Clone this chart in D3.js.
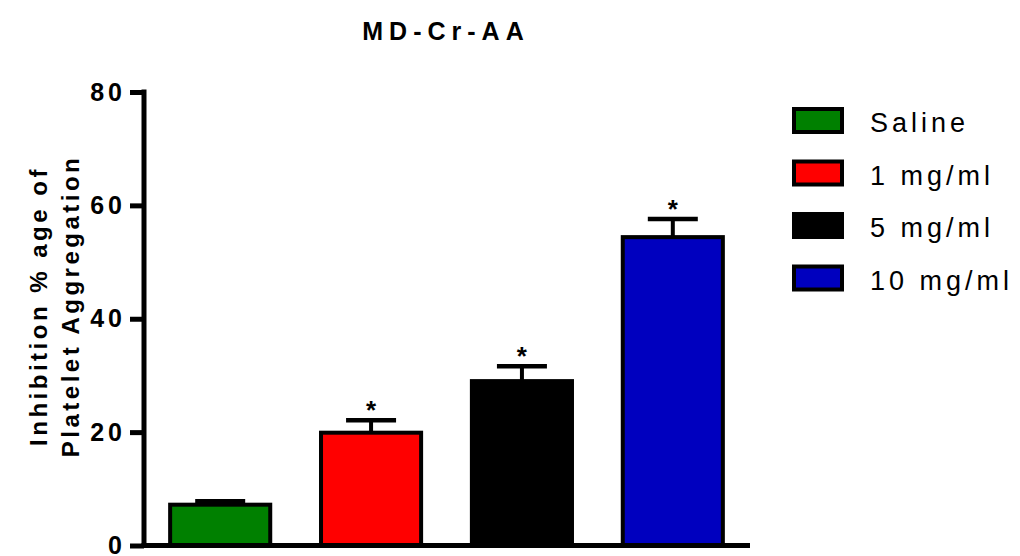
<!DOCTYPE html>
<html>
<head>
<meta charset="utf-8">
<script src="https://cdn.jsdelivr.net/npm/d3@7"></script>
<style>
  body { margin: 0; background: #fff; }
  svg text { font-family: "Liberation Sans", Arial, sans-serif; }
</style>
</head>
<body>
<div id="chart"></div>
<script>
// data
var groups = ["Saline", "1 mg/ml", "5 mg/ml", "10 mg/ml"];
var means = [7.2, 19.9, 29.0, 54.4];
var errors = [0.6, 2.2, 2.6, 3.2];
var starred = [false, true, true, true];
var colors = ["#008000", "#ff0000", "#000000", "#0000bf"];
var yTicks = [0, 20, 40, 60, 80];

var W = 1020, H = 556;

var svg = d3.select("#chart")
    .append("svg")
    .attr("width", W)
    .attr("height", H);

// scales
var x = d3.scaleBand()
    .domain(groups)
    .range([144, 749])
    .paddingInner(0.31)
    .paddingOuter(0.16);

var y = d3.scaleLinear()
    .domain([0, 80])
    .range([545.5, 92]);

// title
svg.append("text")
    .attr("x", 446)
    .attr("y", 40)
    .attr("text-anchor", "middle")
    .style("font-size", "25px")
    .style("font-weight", "bold")
    .style("letter-spacing", "6px")
    .text("MD-Cr-AA");

// bars
var g = svg.selectAll("g.bar")
    .data(groups)
    .enter()
    .append("g")
    .attr("class", "bar");

g.append("line")
    .attr("x1", d => x(d) + x.bandwidth() / 2)
    .attr("x2", d => x(d) + x.bandwidth() / 2)
    .attr("y1", (d, i) => y(means[i]))
    .attr("y2", (d, i) => y(means[i] + errors[i]))
    .attr("stroke", "#000")
    .attr("stroke-width", 4);

g.append("line")
    .attr("x1", d => x(d) + x.bandwidth() / 2 - 25)
    .attr("x2", d => x(d) + x.bandwidth() / 2 + 25)
    .attr("y1", (d, i) => y(means[i] + errors[i]))
    .attr("y2", (d, i) => y(means[i] + errors[i]))
    .attr("stroke", "#000")
    .attr("stroke-width", 4.5);

g.append("rect")
    .attr("x", d => x(d) + 2)
    .attr("width", x.bandwidth() - 4)
    .attr("y", (d, i) => y(means[i]))
    .attr("height", (d, i) => y(0) - y(means[i]))
    .attr("fill", (d, i) => colors[i])
    .attr("stroke", "#000")
    .attr("stroke-width", 4);

// significance stars
g.filter((d, i) => starred[i])
    .append("text")
    .attr("x", d => x(d) + x.bandwidth() / 2)
    .attr("y", d => y(means[groups.indexOf(d)] + errors[groups.indexOf(d)]) - 1)
    .attr("text-anchor", "middle")
    .style("font-size", "26px")
    .style("font-weight", "bold")
    .text("*");

// y axis
var yAxis = svg.append("g")
    .attr("transform", "translate(144,0)")
    .call(d3.axisLeft(y).tickValues(yTicks).tickSize(14).tickSizeOuter(0).tickPadding(8));
yAxis.select(".domain").attr("stroke-width", 5).attr("d", "M0," + (y(80) - 2.5) + "V" + (y(0) + 2.5));
yAxis.selectAll(".tick line").attr("stroke-width", 5);
yAxis.selectAll(".tick text")
    .style("font-family", "'Liberation Sans', Arial, sans-serif")
    .style("font-size", "25px")
    .style("font-weight", "bold")
    .style("letter-spacing", "4px")
    .attr("dx", "4px");

// x axis (no ticks)
var xAxis = svg.append("g")
    .attr("transform", "translate(0," + y(0) + ")")
    .call(d3.axisBottom(x).tickValues([]).tickSizeOuter(0));
xAxis.select(".domain").attr("stroke-width", 5).attr("d", "M141.5,0H750");

// y label
var yl = svg.append("text")
    .attr("transform", "translate(47,306) rotate(-90)")
    .attr("text-anchor", "middle")
    .style("font-size", "24px")
    .style("font-weight", "bold")
    .style("letter-spacing", "3.5px");
yl.append("tspan").attr("x", 0).attr("y", 0).text("Inhibition % age of");
yl.append("tspan").attr("x", 0).attr("y", 32).text("Platelet Aggregation");

// legend
var leg = svg.selectAll("g.legend")
    .data(groups)
    .enter()
    .append("g")
    .attr("class", "legend")
    .attr("transform", (d, i) => "translate(794," + (109 + i * 52.5) + ")");

leg.append("rect")
    .attr("width", 48)
    .attr("height", 23)
    .attr("fill", (d, i) => colors[i])
    .attr("stroke", "#000")
    .attr("stroke-width", 4);

leg.append("text")
    .attr("x", 76)
    .attr("y", 23)
    .style("font-size", "27px")
    .style("letter-spacing", "4px")
    .text(d => d);
</script>
</body>
</html>
